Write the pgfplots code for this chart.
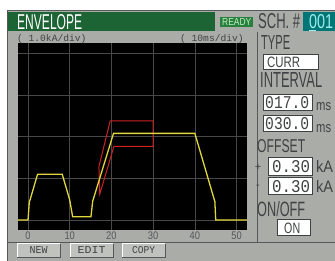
\documentclass[border=0pt]{standalone}
\usepackage{pgfplots}
\pgfplotsset{compat=1.18}
\usepackage{fontspec}
\setmainfont{Liberation Sans}
\newfontfamily\mono{Liberation Mono}
\definecolor{panel}{RGB}{170,172,168}
\definecolor{frame}{RGB}{85,88,88}
\definecolor{titleg}{RGB}{28,100,52}
\definecolor{readyg}{RGB}{40,128,62}
\definecolor{readyt}{RGB}{195,240,195}
\definecolor{teal1}{RGB}{0,118,118}
\definecolor{tealt}{RGB}{160,235,235}
\definecolor{dtext}{RGB}{62,66,66}
\definecolor{gridc}{RGB}{72,72,72}
\definecolor{tickc}{RGB}{85,88,88}
\definecolor{yel}{RGB}{225,215,60}
\definecolor{redl}{RGB}{205,35,35}
\definecolor{btn}{RGB}{192,194,190}
\newcommand\lab[6]{\node[anchor=base west,inner sep=0pt,text=#6] at (#1,#2) {\resizebox{#3pt}{#4pt}{#5}};}
\newcommand\tl[1]{\scalebox{0.85}[1]{\fontsize{11}{11}\selectfont #1}}
\begin{document}
\begin{tikzpicture}
\useasboundingbox (0,0) rectangle (335pt,260pt);
\begin{scope}[x=1pt,y=-1pt,yshift=260pt]
\fill[white] (0,0) rectangle (335,260);
\fill[panel] (7,11) rectangle (336,261);
\draw[frame,line width=1pt] (7,261) -- (7,11) -- (336,11);
\fill[titleg] (8,12) rectangle (215,31.5);
\fill[readyg] (220,17) rectangle (253,27.5);
\fill[teal1] (303,12) rectangle (336,31.5);
\end{scope}
\begin{axis}[at={(18pt,30pt)},anchor=south west,scale only axis,width=229pt,height=187pt,
  xmin=-2.4,xmax=52.5,ymin=-0.24,ymax=4.25,
  axis background/.style={fill=black},axis line style={draw=none},
  xtick={0,10,20,30,40,50},ytick={0,1,2,3,4},yticklabels={},
  xticklabels={\tl{0},\tl{10},\tl{20},\tl{30},\tl{40},\tl{50}},
  grid=major,grid style={gridc,line width=0.6pt},major tick length=0pt,
  xticklabel style={anchor=north,inner sep=0pt,yshift=-2pt,text=tickc}]
\addplot[redl,line width=1pt] coordinates {(17,1.28)(19.7,2.38)(30,2.38)(30,1.77)(20.6,1.77)(17.2,0.62)(17,1.28)};
\addplot[yel,line width=1.3pt] coordinates {(-2.4,0)(0,0)(0.3,0.42)(2.3,1.1)(8.2,1.1)(10,0.48)(10.7,0.08)(15.1,0.08)(15.5,0.45)(20.5,2.08)(40,2.08)(44.8,0.44)(45,0)(52.5,0)};
\end{axis}
\begin{scope}[x=1pt,y=-1pt,yshift=260pt]
% separators
\draw[frame,line width=0.8pt] (257,32) -- (257,242);
\draw[frame,line width=0.8pt] (7,242.5) -- (336,242.5);
% title texts
\lab{17}{30}{65}{15}{ENVELOPE}{white}
\node[anchor=base west,inner sep=0pt,text=dtext] at (17,41.5) {\mono\fontsize{9.6}{9.6}\selectfont ( 1.0kA/div)};
\node[anchor=base west,inner sep=0pt,text=dtext] at (180,41.5) {\mono\fontsize{9.6}{9.6}\selectfont ( 10ms/div)};
\lab{222}{25.5}{29}{7}{READY}{readyt}
\lab{258}{29}{42}{15}{SCH. \#}{dtext}
\lab{309}{28.5}{24}{14}{001}{tealt}
\draw[tealt,line width=0.8pt] (309,30) -- (316,30);
% right panel
\lab{261}{50}{29}{14}{TYPE}{dtext}
\draw[fill=white,draw=dtext,line width=1pt] (263,55) rectangle (318,70);
\lab{267}{68}{33}{10.5}{CURR}{dtext}
\lab{260}{88}{62}{15}{INTERVAL}{dtext}
\draw[fill=white,draw=dtext,line width=1pt] (263,95) rectangle (312,111);
\lab{265}{109}{44}{12}{\mono 017.0}{dtext}
\lab{316}{111}{15}{8}{ms}{dtext}
\draw[fill=white,draw=dtext,line width=1pt] (263,116) rectangle (312,132);
\lab{265}{130}{44}{12}{\mono 030.0}{dtext}
\lab{316}{132}{15}{8}{ms}{dtext}
\lab{257}{153}{48}{13}{OFFSET}{dtext}
\node[anchor=center,inner sep=0pt,text=dtext] at (258,167) {\fontsize{11}{11}\selectfont +};
\node[anchor=center,inner sep=0pt,text=dtext] at (258,187) {\fontsize{11}{11}\selectfont -};
\draw[fill=white,draw=dtext,line width=1pt] (268,158) rectangle (312,176);
\lab{272}{173}{38}{12}{\mono 0.30}{dtext}
\lab{316}{173}{17}{12}{kA}{dtext}
\draw[fill=white,draw=dtext,line width=1pt] (268,178) rectangle (312,195);
\lab{272}{192.5}{38}{12}{\mono 0.30}{dtext}
\lab{316}{192.5}{17}{12}{kA}{dtext}
\lab{257}{217}{48}{15}{ON/OFF}{dtext}
\draw[fill=white,draw=dtext,line width=1pt] (277,220) rectangle (310,236);
\lab{284}{233.5}{16}{10.5}{ON}{dtext}
% buttons
\foreach \a/\b/\t/\w in {17/60/NEW/18,70/113/EDIT/28,122/165/COPY/23}{
  \fill[btn] (\a,243.5) rectangle (\b,257);
  \draw[white,line width=0.8pt] (\a,257) -- (\a,243.5) -- (\b,243.5);
  \draw[frame,line width=0.8pt] (\a,257) -- (\b,257) -- (\b,243.5);
  \pgfmathsetmacro\xc{(\a+\b)/2-\w/2}
  \lab{\xc}{254}{\w}{7}{\mono \t}{dtext}
}
\end{scope}
\end{tikzpicture}
\end{document}
